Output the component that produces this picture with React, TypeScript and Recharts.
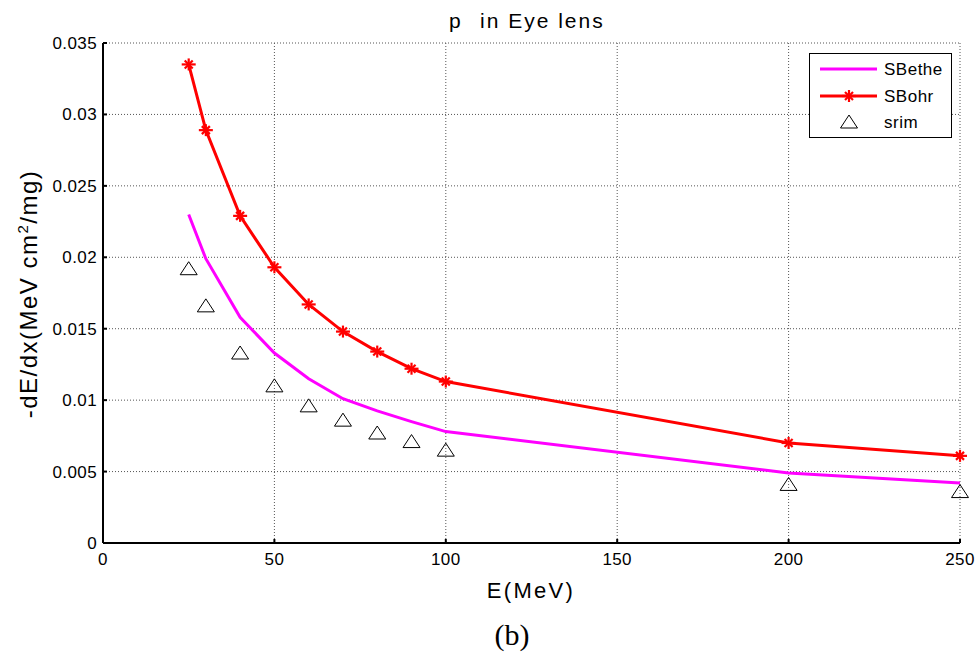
import { LineChart, Line, XAxis, YAxis, CartesianGrid } from 'recharts'

const energies = [25, 30, 40, 50, 60, 70, 80, 90, 100, 200, 250]
const sBethe = [0.023, 0.0199, 0.0158, 0.0133, 0.0115, 0.0101, 0.00925, 0.0085, 0.0078, 0.0049, 0.0042]
const sBohr = [0.0335, 0.0289, 0.0229, 0.0193, 0.0167, 0.0148, 0.0134, 0.0122, 0.0113, 0.007, 0.0061]
const srim = [0.0192, 0.0166, 0.0133, 0.011, 0.0096, 0.0086, 0.0077, 0.0071, 0.0065, 0.0041, 0.0036]

const xTicks = [0, 50, 100, 150, 200, 250]
const yTicks = [0, 0.005, 0.01, 0.015, 0.02, 0.025, 0.03, 0.035]

const betheData = energies.map((e, i) => ({ e, v: sBethe[i] }))
const bohrData = energies.map((e, i) => ({ e, v: sBohr[i] }))
const srimData = energies.map((e, i) => ({ e, v: srim[i] }))

const font = 'Liberation Sans, Arial, sans-serif'
const tickStyle = { fill: '#000', fontSize: 17, fontFamily: font, letterSpacing: 0.4 }

const Star = (props: any) => {
   const { cx, cy } = props
   if (cx == null || cy == null) return null
   return (
      <g stroke="#ff0000" strokeWidth={2.2}>
         <line x1={cx - 7} y1={cy} x2={cx + 7} y2={cy} />
         <line x1={cx} y1={cy - 6} x2={cx} y2={cy + 6} />
         <line x1={cx - 4} y1={cy - 4} x2={cx + 4} y2={cy + 4} />
         <line x1={cx - 4} y1={cy + 4} x2={cx + 4} y2={cy - 4} />
      </g>
   )
}

const Triangle = (props: any) => {
   const { cx, cy } = props
   if (cx == null || cy == null) return null
   return (
      <polygon
         points={`${cx},${cy - 7} ${cx - 8.5},${cy + 6} ${cx + 8.5},${cy + 6}`}
         fill="none"
         stroke="#000"
         strokeWidth={1}
      />
   )
}

export default function App() {
   return (
      <div style={{ position: 'absolute', left: 0, top: 0, width: 980, height: 653, background: '#fff' }}>
         <LineChart width={980} height={653} margin={{ top: 43, right: 20, bottom: 80, left: 43 }}>
            <CartesianGrid stroke="#555" strokeDasharray="1 2" />
            <XAxis
               dataKey="e"
               type="number"
               domain={[0, 250]}
               ticks={xTicks}
               height={30}
               stroke="#000"
               strokeWidth={2}
               tickSize={-4}
               tickMargin={14}
               tick={tickStyle}
            />
            <XAxis xAxisId="top" orientation="top" type="number" domain={[0, 250]} ticks={xTicks} height={0} stroke="#000" strokeWidth={1.5} tickSize={-4} tick={false} />
            <YAxis
               type="number"
               domain={[0, 0.035]}
               ticks={yTicks}
               width={60}
               stroke="#000"
               strokeWidth={2}
               tickSize={-4}
               tickMargin={10}
               tick={tickStyle}
            />
            <YAxis yAxisId="right" orientation="right" type="number" domain={[0, 0.035]} ticks={yTicks} width={0} stroke="#000" strokeWidth={1.5} tickSize={-4} tick={false} />
            <Line data={betheData} dataKey="v" stroke="#ff00ff" strokeWidth={3} dot={false} isAnimationActive={false} />
            <Line data={bohrData} dataKey="v" stroke="#ff0000" strokeWidth={3} dot={<Star />} isAnimationActive={false} />
            <Line data={srimData} dataKey="v" stroke="none" dot={<Triangle />} isAnimationActive={false} />
         </LineChart>

         <svg width={980} height={653} style={{ position: 'absolute', left: 0, top: 0, pointerEvents: 'none' }}>
            <text x={449} y={28} fontSize={21} fontFamily={font}>p</text>
            <text x={480} y={28} fontSize={21} fontFamily={font} letterSpacing={2}>in Eye lens</text>

            <text
               x={37}
               y={294}
               transform="rotate(-90, 37, 294)"
               textAnchor="middle"
               fontSize={24}
               fontFamily={font}
               letterSpacing={1.5}
            >
               -dE/dx(MeV cm<tspan dy={-9} fontSize={15}>2</tspan><tspan dy={9}>/mg)</tspan>
            </text>

            <text x={531} y={598} textAnchor="middle" fontSize={22} fontFamily={font} letterSpacing={2.3}>E(MeV)</text>
            <text x={512} y={645} textAnchor="middle" fontSize={30} fontFamily="Liberation Serif, Times New Roman, serif">(b)</text>

            <rect x={809.5} y={53.5} width={142} height={84} fill="#fff" stroke="#000" strokeWidth={1} />
            <line x1={820} y1={69} x2={877} y2={69} stroke="#ff00ff" strokeWidth={3} />
            <line x1={820} y1={96} x2={877} y2={96} stroke="#ff0000" strokeWidth={3} />
            <Star cx={849} cy={96} />
            <Triangle cx={849} cy={122} />
            <text x={884} y={75} fontSize={17} fontFamily={font} letterSpacing={0.5}>SBethe</text>
            <text x={884} y={102} fontSize={17} fontFamily={font} letterSpacing={0.5}>SBohr</text>
            <text x={884} y={128} fontSize={17} fontFamily={font} letterSpacing={0.5}>srim</text>
         </svg>
      </div>
   )
}
